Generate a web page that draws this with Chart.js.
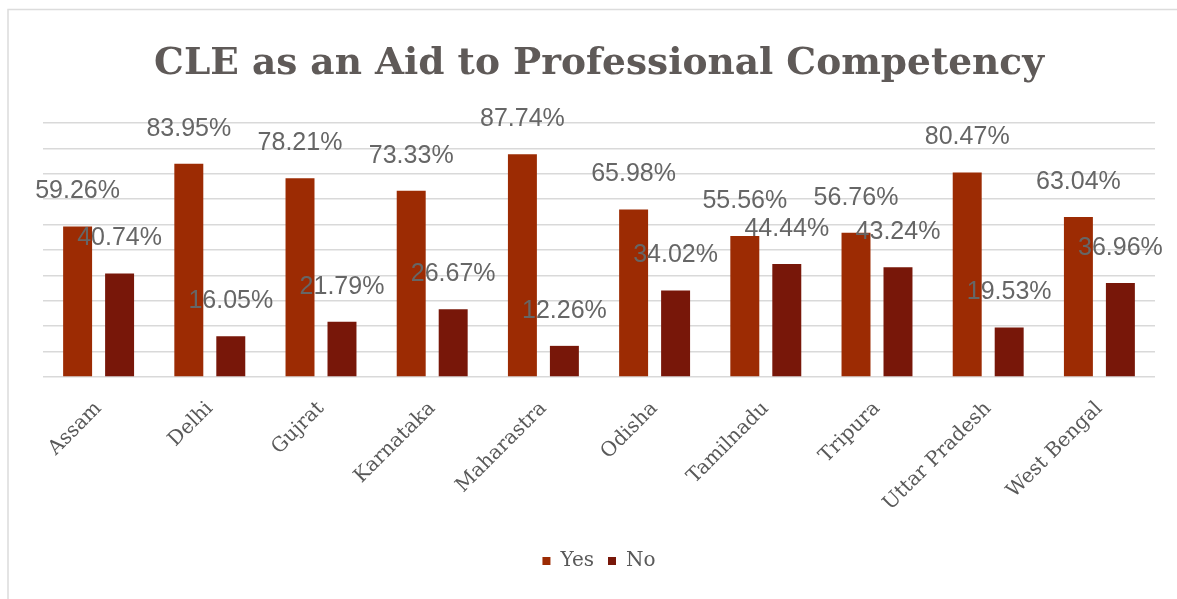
<!DOCTYPE html>
<html>
<head>
<meta charset="utf-8">
<script src="https://cdn.jsdelivr.net/npm/chart.js@4"></script>
<style>
  html, body { margin: 0; padding: 0; background: #fff; }
  canvas { display: block; }
</style>
</head>
<body>
<canvas id="cleChart" width="1177" height="599"></canvas>
<script>
const states = ['Assam', 'Delhi', 'Gujrat', 'Karnataka', 'Maharastra', 'Odisha', 'Tamilnadu', 'Tripura', 'Uttar Pradesh', 'West Bengal'];
const yesPct = [59.26, 83.95, 78.21, 73.33, 87.74, 65.98, 55.56, 56.76, 80.47, 63.04];
const noPct = [40.74, 16.05, 21.79, 26.67, 12.26, 34.02, 44.44, 43.24, 19.53, 36.96];

const slab = '"DejaVu Serif", serif';
const grey = '#5f5a58';

// light frame along the top and left edge
const framePlugin = {
    id: 'frame',
    beforeDraw(chart) {
        const ctx = chart.ctx;
        ctx.save();
        ctx.strokeStyle = '#dcdcdc';
        ctx.lineWidth = 1.5;
        ctx.beginPath();
        ctx.moveTo(8, chart.height);
        ctx.lineTo(8, 9.5);
        ctx.lineTo(chart.width, 9.5);
        ctx.stroke();
        ctx.restore();
    }
};

// percentage labels floating above each bar
const valueLabels = {
    id: 'valueLabels',
    afterDatasetsDraw(chart) {
        const ctx = chart.ctx;
        ctx.save();
        ctx.font = '25px "Liberation Sans", Arial, sans-serif';
        ctx.fillStyle = '#666666';
        ctx.textAlign = 'center';
        ctx.textBaseline = 'middle';
        chart.data.datasets.forEach((ds, i) => {
            chart.getDatasetMeta(i).data.forEach((bar, j) => {
                ctx.fillText(ds.data[j].toFixed(2) + '%', bar.x, bar.y - 35);
            });
        });
        ctx.restore();
    }
};

const ctx = document.getElementById('cleChart').getContext('2d');
new Chart(ctx, {
    type: 'bar',
    data: {
        labels: states,
        datasets: [{
            label: 'Yes',
            data: yesPct,
            backgroundColor: '#9c2b03',
            categoryPercentage: 0.755,
            barPercentage: 0.69
        }, {
            label: 'No',
            data: noPct,
            backgroundColor: '#781709',
            categoryPercentage: 0.755,
            barPercentage: 0.69
        }]
    },
    options: {
        responsive: false,
        animation: false,
        layout: { padding: { left: 43, right: 22, top: 12, bottom: 18 } },
        plugins: {
            title: {
                display: true,
                text: 'CLE as an Aid to Professional Competency',
                color: grey,
                font: { family: slab, size: 37.5, weight: 'bold' },
                padding: { top: 30, bottom: 36 }
            },
            legend: {
                position: 'bottom',
                labels: {
                    boxWidth: 8,
                    boxHeight: 8,
                    color: '#595959',
                    font: { family: slab, size: 20 },
                    padding: 14
                }
            },
            tooltip: { enabled: false }
        },
        scales: {
            x: {
                grid: { display: false },
                border: { display: false },
                afterFit(axis) { axis.height = 160; },
                ticks: {
                    minRotation: 45,
                    maxRotation: 45,
                    padding: 12,
                    color: '#595959',
                    font: { family: slab, size: 20 }
                }
            },
            y: {
                min: 0,
                max: 100,
                ticks: { display: false, stepSize: 10 },
                grid: { color: '#d9d9d9', lineWidth: 1.5, drawTicks: false },
                border: { display: false }
            }
        }
    },
    plugins: [framePlugin, valueLabels]
});
</script>
</body>
</html>
